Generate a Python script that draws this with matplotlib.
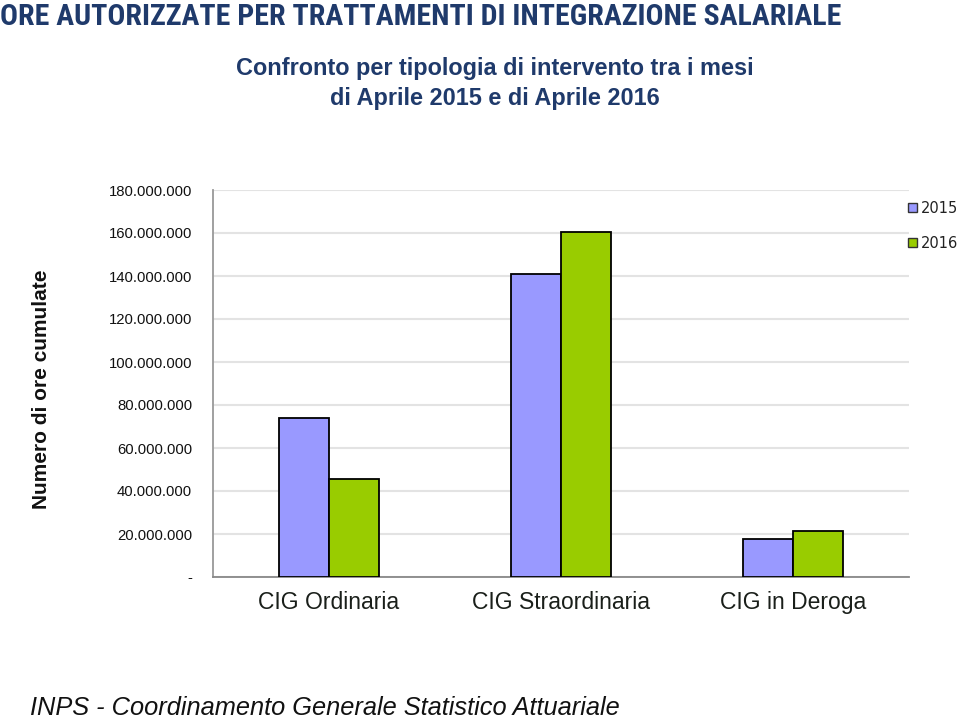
import matplotlib
matplotlib.use("Agg")
import matplotlib.pyplot as plt
from matplotlib.patches import Patch
from matplotlib.ticker import FuncFormatter, MultipleLocator
import numpy as np

categories = ["CIG Ordinaria", "CIG Straordinaria", "CIG in Deroga"]
series_names = ["2015", "2016"]
values_2015 = [73.8e6, 140.9e6, 17.7e6]
values_2016 = [45.4e6, 160.3e6, 21.3e6]
colors = ["#9999FF", "#99CC00"]

title = "ORE AUTORIZZATE PER TRATTAMENTI DI INTEGRAZIONE SALARIALE"
subtitle1 = "Confronto per tipologia di intervento tra i mesi"
subtitle2 = "di Aprile 2015 e di Aprile 2016"
ylabel = "Numero di ore cumulate"
footer = "INPS - Coordinamento Generale Statistico Attuariale"

SANS = ["Liberation Sans", "DejaVu Sans"]
NARROW = ["Roboto Condensed", "Archivo Narrow", "Liberation Sans", "DejaVu Sans"]
NAVY = "#1F3A6B"

fig = plt.figure(figsize=(9.6, 7.19), dpi=100)
W, H = 960, 719
ax = fig.add_axes([213 / W, 1 - 577 / H, (909 - 213) / W, (577 - 190) / H])

x = np.arange(len(categories))
bw = 50 / 232
ax.bar(x - bw / 2, values_2015, bw, color=colors[0], edgecolor="black", linewidth=1.3, zorder=3)
ax.bar(x + bw / 2, values_2016, bw, color=colors[1], edgecolor="black", linewidth=1.3, zorder=3)

ax.set_xlim(-0.5, len(categories) - 0.5)
ax.set_ylim(0, 180e6)
ax.yaxis.set_major_locator(MultipleLocator(20e6))


def fmt(v, pos):
    if abs(v) < 1:
        return "-"
    return f"{int(round(v)):,}".replace(",", ".")


ax.yaxis.set_major_formatter(FuncFormatter(fmt))
ax.grid(axis="y", color="#e3e3e3", linewidth=1.5, zorder=0)
ax.set_axisbelow(True)
for s in ["top", "right"]:
    ax.spines[s].set_visible(False)
ax.spines["left"].set_color("#999999")
ax.spines["bottom"].set_color("#888888")
ax.spines["left"].set_linewidth(1.3)
ax.spines["bottom"].set_linewidth(1.3)

ax.tick_params(axis="y", length=0, pad=15, labelsize=10.7, labelcolor="#111111")
ax.tick_params(axis="x", length=0, pad=10, labelsize=16.5, labelcolor="#1a1f1a")
for lab in ax.get_yticklabels():
    lab.set_family(SANS)
ax.set_xticks(x)
ax.set_xticklabels(categories, family=SANS)

t = fig.text(0.0, 1 - 17 / H, title, family=NARROW, fontweight="bold", fontsize=20,
             color=NAVY, ha="left", va="center")
# fit title width to the reference (~840 px)
renderer = fig.canvas.get_renderer()
wpx = t.get_window_extent(renderer).width
if wpx > 0:
    t.set_fontsize(20 * 840 / wpx)

fig.text(495 / W, 1 - 68 / H, subtitle1, family=SANS, fontweight="bold", fontsize=16.9,
         color=NAVY, ha="center", va="center")
fig.text(495 / W, 1 - 99 / H, subtitle2, family=SANS, fontweight="bold", fontsize=16.9,
         color=NAVY, ha="center", va="center")
fig.text(42 / W, 1 - 389 / H, ylabel, family=SANS, fontweight="bold", fontsize=15,
         rotation=90, ha="center", va="center", color="#111111")
fig.text(30 / W, 1 - 708 / H, footer, family=SANS, style="italic", fontsize=18.3,
         ha="left", va="center", color="#111111")

handles = [Patch(facecolor=c, edgecolor="#333333", linewidth=1.0) for c in colors]
fig.legend(handles, series_names, loc="upper left", bbox_to_anchor=(908 / W, 1 - 201 / H),
           frameon=False, handlelength=0.6, handleheight=0.6, handletextpad=0.25,
           labelspacing=1.35, prop={"family": "DejaVu Sans", "size": 10.5}, borderaxespad=0,
           borderpad=0, labelcolor="#222222")

fig.savefig("out.png", dpi=100)
